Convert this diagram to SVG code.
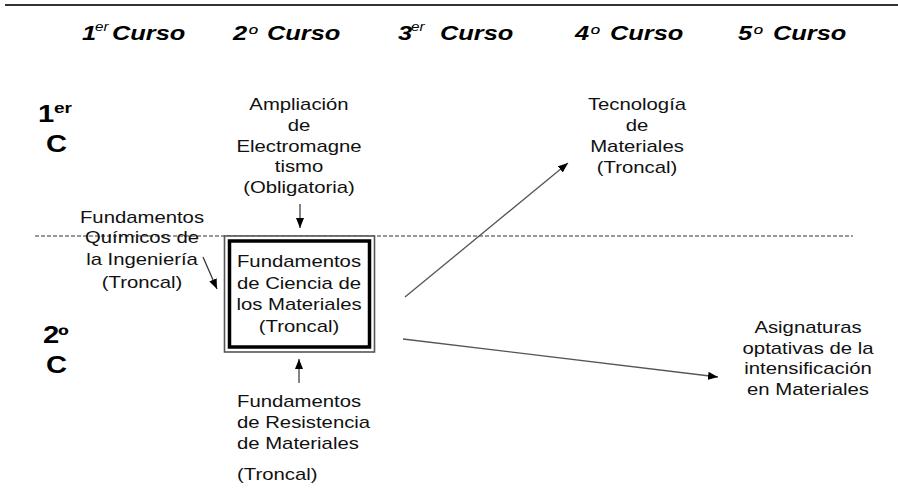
<svg xmlns="http://www.w3.org/2000/svg" width="898" height="496" viewBox="0 0 898 496">
<style>
  .t { font-family: "Liberation Sans", Arial, sans-serif; font-size: 16px; fill: #111; }
  .m { text-anchor: middle; }
  .hd { font-family: "Liberation Sans", Arial, sans-serif; font-size: 20px; font-weight: bold; font-style: italic; fill: #000; }
  .ho { font-family: "Liberation Sans", Arial, sans-serif; font-size: 19px; font-style: italic; fill: #000; }
  .hs { font-family: "Liberation Sans", Arial, sans-serif; font-size: 12px; font-style: italic; fill: #000; }
  .rl { font-family: "Liberation Sans", Arial, sans-serif; font-size: 23px; font-weight: bold; fill: #000; }
  .rs { font-family: "Liberation Sans", Arial, sans-serif; font-size: 15px; font-weight: bold; fill: #000; }
  .conn { stroke: #333; stroke-width: 1.2; fill: none; marker-end: url(#ah); }
  .conn2 { stroke: #555; stroke-width: 1.3; fill: none; marker-end: url(#ah); }
</style>
<defs>
  <marker id="ah" markerUnits="userSpaceOnUse" markerWidth="10" markerHeight="8" refX="10" refY="4" orient="auto">
    <path d="M0,0 L10,4 L0,8 z" fill="#000"/>
  </marker>
</defs>
<rect width="898" height="496" fill="#fff"/>

<!-- top rule -->
<line x1="5" y1="5" x2="898" y2="5" stroke="#333" stroke-width="2"/>

<!-- column headers -->
<g id="headers">
  <text class="hd" transform="translate(82,40) scale(1.27,1)">1</text>
  <text class="hs" transform="translate(95,31) scale(1.27,1)">er</text>
  <text class="hd" transform="translate(112,40) scale(1.27,1)">Curso</text>

  <text class="hd" transform="translate(233,40) scale(1.27,1)">2</text>
  <text class="ho" transform="translate(248,40) scale(1.27,1)">º</text>
  <text class="hd" transform="translate(267,40) scale(1.27,1)">Curso</text>

  <text class="hd" transform="translate(398,40) scale(1.27,1)">3</text>
  <text class="hs" transform="translate(411,31) scale(1.27,1)">er</text>
  <text class="hd" transform="translate(440,40) scale(1.27,1)">Curso</text>

  <text class="hd" transform="translate(575,40) scale(1.27,1)">4</text>
  <text class="ho" transform="translate(590,40) scale(1.27,1)">º</text>
  <text class="hd" transform="translate(610,40) scale(1.27,1)">Curso</text>

  <text class="hd" transform="translate(738,40) scale(1.27,1)">5</text>
  <text class="ho" transform="translate(753,40) scale(1.27,1)">º</text>
  <text class="hd" transform="translate(773,40) scale(1.27,1)">Curso</text>
</g>

<!-- row labels -->
<g id="row1">
  <text class="rl" transform="translate(38,122) scale(1.27,1)">1</text>
  <text class="rs" transform="translate(54,113) scale(1.27,1)">er</text>
  <text class="rl" transform="translate(46,152) scale(1.27,1)">C</text>
</g>
<g id="row2">
  <text class="rl" transform="translate(43,343) scale(1.27,1)">2</text>
  <text class="rl" transform="translate(58,343) scale(1.27,1)">º</text>
  <text class="rl" transform="translate(46,373) scale(1.27,1)">C</text>
</g>

<!-- semester divider -->
<line x1="35" y1="236" x2="853" y2="236" stroke="#333" stroke-width="1" stroke-dasharray="4 2"/>

<!-- nodes -->
<g id="ampliacion" transform="translate(299,0) scale(1.27,1)">
  <text class="t m" x="0" y="110">Ampliación</text>
  <text class="t m" x="0" y="131">de</text>
  <text class="t m" x="0" y="152">Electromagne</text>
  <text class="t m" x="0" y="172">tismo</text>
  <text class="t m" x="0" y="193">(Obligatoria)</text>
</g>

<g id="quimicos" transform="translate(142,0) scale(1.27,1)">
  <text class="t m" x="0" y="223">Fundamentos</text>
  <text class="t m" x="0" y="243">Químicos de</text>
  <text class="t m" x="0" y="265">la Ingeniería</text>
  <text class="t m" x="0" y="288">(Troncal)</text>
</g>

<g id="ciencia">
  <rect x="224.5" y="236" width="150" height="116" fill="#fff" stroke="#555" stroke-width="1.6"/>
  <rect x="229.5" y="241" width="140" height="106" fill="none" stroke="#000" stroke-width="3.5"/>
  <g transform="translate(299,0) scale(1.27,1)">
    <text class="t m" x="0" y="267">Fundamentos</text>
    <text class="t m" x="0" y="289">de Ciencia de</text>
    <text class="t m" x="0" y="310">los Materiales</text>
    <text class="t m" x="0" y="332">(Troncal)</text>
  </g>
</g>

<g id="resistencia" transform="translate(237,0) scale(1.27,1)">
  <text class="t" x="0" y="407">Fundamentos</text>
  <text class="t" x="0" y="428">de Resistencia</text>
  <text class="t" x="0" y="449">de Materiales</text>
  <text class="t" x="0" y="480">(Troncal)</text>
</g>

<g id="tecnologia" transform="translate(637,0) scale(1.27,1)">
  <text class="t m" x="0" y="110">Tecnología</text>
  <text class="t m" x="0" y="131">de</text>
  <text class="t m" x="0" y="152">Materiales</text>
  <text class="t m" x="0" y="173">(Troncal)</text>
</g>

<g id="optativas" transform="translate(808,0) scale(1.27,1)">
  <text class="t m" x="0" y="333">Asignaturas</text>
  <text class="t m" x="0" y="354">optativas de la</text>
  <text class="t m" x="0" y="374">intensificación</text>
  <text class="t m" x="0" y="395">en Materiales</text>
</g>

<!-- connectors -->
<g id="connectors">
  <line class="conn" x1="300" y1="204" x2="300" y2="228"/>
  <line class="conn" x1="299" y1="383" x2="299" y2="359"/>
  <line class="conn" x1="203" y1="257" x2="217" y2="289"/>
  <line class="conn2" x1="405" y1="297" x2="568" y2="163"/>
  <line class="conn2" x1="403" y1="339" x2="718" y2="377"/>
</g>
</svg>
